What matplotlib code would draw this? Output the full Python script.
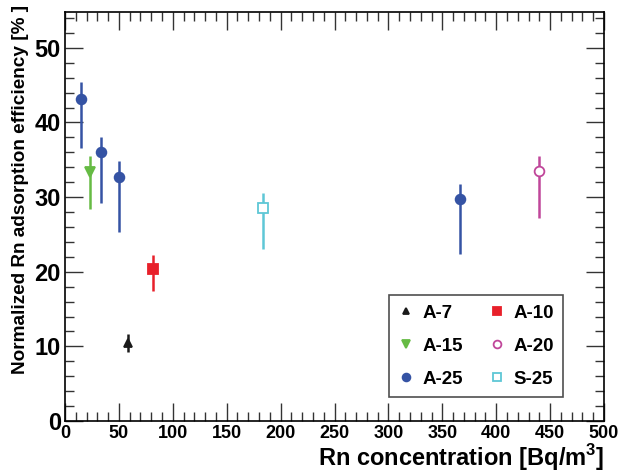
import matplotlib
matplotlib.use("Agg")
import matplotlib.pyplot as plt
from matplotlib.ticker import MultipleLocator

plt.rcParams['font.family'] = ['Liberation Sans', 'DejaVu Sans']
plt.rcParams['font.weight'] = 'bold'
plt.rcParams['mathtext.fontset'] = 'custom'
plt.rcParams['mathtext.bf'] = 'Liberation Sans:bold'
plt.rcParams['mathtext.rm'] = 'Liberation Sans:bold'

# data: (x, y, y_low, y_high)
a7_x = [58]; a7_y = [10.5]; a7_lo = [9.3]; a7_hi = [11.6]
a10_x = [82]; a10_y = [20.3]; a10_lo = [17.4]; a10_hi = [22.3]
a15_x = [23]; a15_y = [33.3]; a15_lo = [28.4]; a15_hi = [35.5]
a20_x = [440]; a20_y = [33.5]; a20_lo = [27.2]; a20_hi = [35.5]
a25_x = [15, 33, 50, 366]; a25_y = [43.1, 36.0, 32.7, 29.7]
a25_lo = [36.6, 29.2, 25.3, 22.4]; a25_hi = [45.4, 38.1, 34.8, 31.7]
s25_x = [184]; s25_y = [28.6]; s25_lo = [23.1]; s25_hi = [30.6]

fig = plt.figure(figsize=(6.18, 4.72), dpi=100)
ax = fig.add_axes([65/618, 1-421/472, (604-65)/618, (421-12)/472])

handles = {}
def draw(x, y, lo, hi, color, marker, label, mfc=None, ms=7):
    yerr = [[yy - l for yy, l in zip(y, lo)], [h - yy for yy, h in zip(y, hi)]]
    ax.errorbar(x, y, yerr=yerr, fmt='none', ecolor=color, elinewidth=1.8, capsize=0)
    h, = ax.plot(x, y, linestyle='none', marker=marker, color=color, ms=ms,
                 mfc=mfc if mfc else color, mec=color, mew=1.3, label=label)
    handles[label] = h

draw(a7_x, a7_y, a7_lo, a7_hi, '#1a1a1a', '^', 'A-7', ms=6)
draw(a10_x, a10_y, a10_lo, a10_hi, '#e8202a', 's', 'A-10', ms=7)
draw(a15_x, a15_y, a15_lo, a15_hi, '#66bb44', 'v', 'A-15', ms=7)
draw(a20_x, a20_y, a20_lo, a20_hi, '#c0469a', 'o', 'A-20', mfc='white', ms=7)
draw(a25_x, a25_y, a25_lo, a25_hi, '#3553a4', 'o', 'A-25', ms=7)
draw(s25_x, s25_y, s25_lo, s25_hi, '#5ec7d6', 's', 'S-25', mfc='white', ms=7)

ax.set_xlim(0, 500)
ax.set_ylim(0, 54.8)
ax.xaxis.set_major_locator(MultipleLocator(50))
ax.xaxis.set_minor_locator(MultipleLocator(10))
ax.yaxis.set_major_locator(MultipleLocator(10))
ax.yaxis.set_minor_locator(MultipleLocator(2))
ax.tick_params(which='both', direction='in', top=True, right=True, width=1.0, color='#333333')
ax.tick_params(which='major', length=13)
ax.tick_params(which='minor', length=6.5)
ax.tick_params(axis='x', labelsize=13, pad=3)
ax.tick_params(axis='y', labelsize=17, pad=3)
for lab in ax.get_xticklabels() + ax.get_yticklabels():
    lab.set_fontweight('bold')
for s in ax.spines.values():
    s.set_linewidth(1.2)

ax.set_xlabel('Rn concentration [Bq/m$^{3}$]', fontsize=17, fontweight='bold', loc='right', labelpad=0)
ax.set_ylabel('Normalized Rn adsorption efficiency [% ]', fontsize=13.7, fontweight='bold', loc='top')
ax.yaxis.set_label_coords(-0.066, 1.018)

order = ['A-7', 'A-15', 'A-25', 'A-10', 'A-20', 'S-25']
leg = ax.legend([handles[k] for k in order], order, ncol=2, loc='center',
                bbox_to_anchor=((476-65)/539, (421-346)/409),
                frameon=True, fancybox=False, edgecolor='#222222', markerscale=0.8,
                handlelength=0.8, handletextpad=0.5, borderpad=0.5, labelspacing=0.85, columnspacing=1.4,
                prop={'weight': 'bold', 'size': 13.5})
leg.get_frame().set_linewidth(1.2)

fig.savefig('out.png', dpi=100)
